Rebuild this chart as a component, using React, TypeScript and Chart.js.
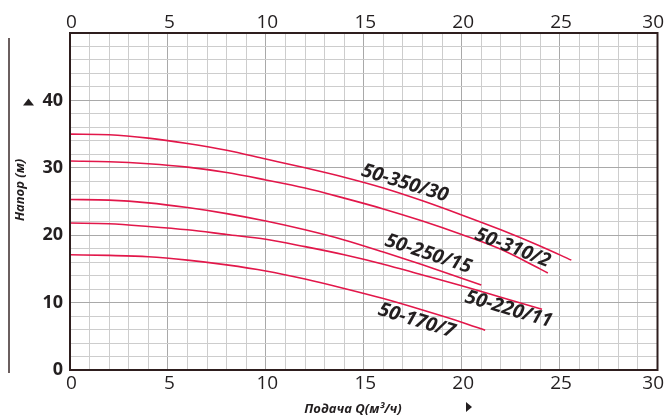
import React, { useEffect, useRef } from "react";
import { Chart, registerables } from "chart.js";

Chart.register(...registerables);

const X_MIN = 0;
const X_MAX = 30;
const Y_MIN = 0;
const Y_MAX = 50;
const xTickValues = [0, 5, 10, 15, 20, 25, 30];

const names = ["50-350/30", "50-310/2", "50-250/15", "50-220/11", "50-170/7"];

const q350 = [0, 2, 4, 6, 8, 10, 12, 14, 16, 18, 20, 22, 24, 25.6];
const h350 = [35.0, 34.9, 34.4, 33.6, 32.6, 31.3, 30.0, 28.6, 27.0, 25.1, 23.0, 20.8, 18.4, 16.3];

const q310 = [0, 2, 4, 6, 8, 10, 12, 14, 16, 18, 20, 22, 24, 24.4];
const h310 = [31.0, 30.9, 30.6, 30.1, 29.3, 28.2, 27.0, 25.5, 23.9, 22.1, 20.1, 17.9, 15.0, 14.4];

const q250 = [0, 2, 4, 6, 8, 10, 12, 14, 16, 18, 20, 21.0];
const h250 = [25.3, 25.2, 24.8, 24.1, 23.2, 22.1, 20.8, 19.3, 17.5, 15.6, 13.6, 12.6];

const q220 = [0, 2, 4, 6, 8, 10, 12, 14, 16, 18, 20, 22, 24.1];
const h220 = [21.8, 21.7, 21.3, 20.8, 20.1, 19.4, 18.3, 17.1, 15.7, 14.1, 12.5, 10.8, 9.0];

const q170 = [0, 2, 4, 6, 8, 10, 12, 14, 16, 18, 20, 21.2];
const h170 = [17.1, 17.0, 16.8, 16.3, 15.6, 14.7, 13.5, 12.1, 10.6, 8.9, 7.1, 5.9];

// label anchors (data coordinates) and angles (degrees)
const labelQ = [17.1, 22.6, 18.3, 22.4, 17.7];
const labelH = [27.7, 18.1, 17.2, 9.0, 7.3];
const labelAngle = [17, 21, 18, 16.5, 17];

const xTitle = "Подача Q(м³/ч)";
const yTitle = "Напор (м)";

const INK = "#231f20";
const CURVE = "#e2174a";
const FONT = "'Open Sans', 'DejaVu Sans', sans-serif";

function pts(q: number[], h: number[]) {
  return q.map((v, i) => ({ x: v, y: h[i] }));
}

const decorPlugin = {
  id: "decor",
  afterDatasetsDraw(chart: any) {
    const { ctx, chartArea, scales } = chart;
    const xs = scales.x;
    const ys = scales.y;
    ctx.save();
    // box
    ctx.strokeStyle = "#2e1e1e";
    ctx.lineWidth = 2;
    ctx.strokeRect(chartArea.left, chartArea.top, chartArea.right - chartArea.left, chartArea.bottom - chartArea.top);
    // x tick labels (top and bottom)
    ctx.fillStyle = INK;
    ctx.font = `19px ${FONT}`;
    ctx.textAlign = "center";
    ctx.textBaseline = "middle";
    xTickValues.forEach((v) => {
      const s = String(v);
      const w = ctx.measureText(s).width;
      const px = Math.min(xs.getPixelForValue(v) + 1.5, 664 - w / 2);
      ctx.fillText(s, px, chartArea.top - 10.5);
      ctx.fillText(s, px, chartArea.bottom + 14);
    });
    // curve labels
    ctx.font = `italic bold 19.5px ${FONT}`;
    names.forEach((n, i) => {
      const px = xs.getPixelForValue(labelQ[i]);
      const py = ys.getPixelForValue(labelH[i]);
      ctx.save();
      ctx.translate(px, py);
      ctx.rotate((labelAngle[i] * Math.PI) / 180);
      ctx.fillText(n, 0, 0);
      ctx.restore();
    });
    // left decorative line
    ctx.strokeStyle = "#3a2a2a";
    ctx.lineWidth = 1.5;
    ctx.beginPath();
    ctx.moveTo(9, 38);
    ctx.lineTo(9, 373);
    ctx.stroke();
    // y title
    ctx.save();
    ctx.translate(20, 190);
    ctx.rotate(-Math.PI / 2);
    ctx.font = `italic bold 13px ${FONT}`;
    ctx.fillStyle = INK;
    ctx.textAlign = "center";
    ctx.textBaseline = "middle";
    ctx.fillText(yTitle, 0, 0);
    ctx.restore();
    // up arrow near top label
    const y40 = ys.getPixelForValue(40);
    ctx.fillStyle = INK;
    ctx.beginPath();
    ctx.moveTo(23, y40 + 5);
    ctx.lineTo(34, y40 + 5);
    ctx.lineTo(28.5, y40 - 2);
    ctx.closePath();
    ctx.fill();
    // x title
    ctx.font = `italic bold 13px ${FONT}`;
    ctx.textAlign = "center";
    ctx.textBaseline = "middle";
    ctx.fillText(xTitle, 353, 409);
    // right arrow
    ctx.beginPath();
    ctx.moveTo(466, 402);
    ctx.lineTo(466, 412);
    ctx.lineTo(472, 407);
    ctx.closePath();
    ctx.fill();
    ctx.restore();
  },
};

function gridColor(ctx: any, major: number) {
  const v = ctx.tick ? ctx.tick.value : 0;
  return v % major === 0 ? "#a9a9a9" : "#cdcdcd";
}

export default function App() {
  const ref = useRef<HTMLCanvasElement | null>(null);
  useEffect(() => {
    if (!ref.current) return;
    const mk = (q: number[], h: number[]) => ({
      data: pts(q, h),
      borderColor: CURVE,
      borderWidth: 1.6,
      pointRadius: 0,
      fill: false,
      cubicInterpolationMode: "monotone" as const,
    });
    const chart = new Chart(ref.current, {
      type: "line",
      data: {
        datasets: [mk(q350, h350), mk(q310, h310), mk(q250, h250), mk(q220, h220), mk(q170, h170)],
      },
      plugins: [decorPlugin],
      options: {
        responsive: false,
        animation: false,
        layout: { padding: { left: 0, right: 8.5, top: 0, bottom: 0 } },
        plugins: { legend: { display: false }, tooltip: { enabled: false } },
        scales: {
          x: {
            type: "linear",
            position: "bottom",
            min: X_MIN,
            max: X_MAX,
            ticks: { stepSize: 1, autoSkip: false, display: false },
            grid: { color: (c: any) => gridColor(c, 5), drawTicks: false, lineWidth: 1 },
            border: { display: false },
            afterFit: (s: any) => { s.height = 49; },
          },
          x2: {
            type: "linear",
            position: "top",
            min: X_MIN,
            max: X_MAX,
            ticks: { display: false },
            grid: { display: false, drawTicks: false },
            border: { display: false },
            afterFit: (s: any) => { s.height = 33; },
          },
          y: {
            type: "linear",
            min: Y_MIN,
            max: Y_MAX,
            ticks: {
              stepSize: 2,
              autoSkip: false,
              color: INK,
              padding: 7,
              font: { family: FONT, size: 18, weight: "bold" },
              callback: (v: any) => (Number(v) % 10 === 0 && Number(v) < 50 ? String(v) : ""),
            },
            grid: { color: (c: any) => gridColor(c, 10), drawTicks: false, lineWidth: 1 },
            border: { display: false },
            afterFit: (s: any) => { s.width = 70; },
          },
        },
      } as any,
    });
    return () => chart.destroy();
  }, []);
  return (
    <div style={{ position: "fixed", left: 0, top: 0, width: 666, height: 419, background: "#fff" }}>
      <canvas ref={ref} width={666} height={419} style={{ width: 666, height: 419, display: "block" }} />
    </div>
  );
}
